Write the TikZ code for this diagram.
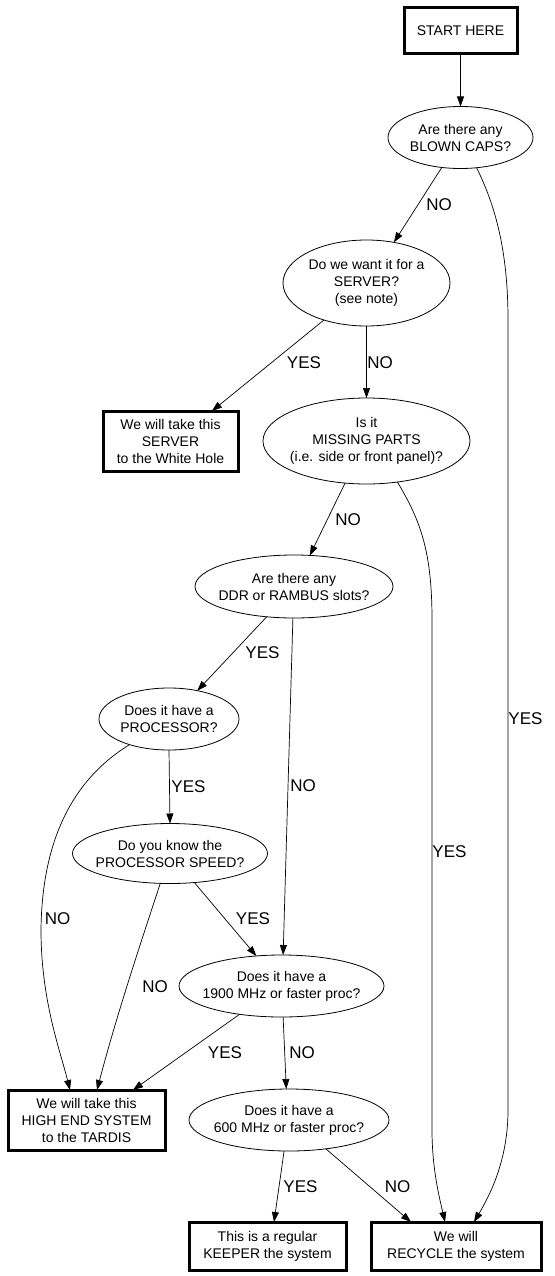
\documentclass[tikz,border=0pt]{standalone}
\usepackage{fontspec}
\setmainfont{Liberation Sans}
\usetikzlibrary{shapes.geometric,arrows.meta}
\tikzset{
  dec/.style={ellipse, draw, line width=0.8pt, inner sep=0pt, outer sep=0pt},
  term/.style={rectangle, draw, line width=3pt, inner sep=0pt, outer sep=0pt,
    font=\fontsize{14}{17}\selectfont, align=center},
  txt/.style={font=\fontsize{14}{17}\selectfont, align=center, inner sep=0pt},
  lbl/.style={font=\fontsize{17}{20}\selectfont, inner sep=0pt},
  edge/.style={-{Triangle[length=10pt,width=7pt]}, line width=0.7pt},
}
\begin{document}
\begin{tikzpicture}[x=1pt,y=-1pt]
\useasboundingbox (0,0) rectangle (554,1276);

% terminal boxes
\node[term, minimum width=113pt, minimum height=46pt] (start) at (460.5,31) {START HERE};
\node[term, minimum width=135pt, minimum height=60pt] (white) at (170.5,441) {We will take this\\SERVER\\to the White Hole};
\node[term, minimum width=157pt, minimum height=60pt] (tardis) at (86.5,1120) {We will take this\\HIGH END SYSTEM\\to the TARDIS};
\node[term, minimum width=157pt, minimum height=48pt] (keeper) at (267.5,1246) {This is a regular\\KEEPER the system};
\node[term, minimum width=170pt, minimum height=48pt] (recycle) at (456,1246) {We will\\RECYCLE the system};

% decision ellipses
\node[dec, minimum width=145pt, minimum height=62pt] (blown) at (460.5,137.5) {};
\node[txt] (blownT) at (blown) {Are there any\\BLOWN CAPS?};
\node[dec, minimum width=167pt, minimum height=86pt] (server) at (366.5,283) {};
\node[txt] (serverT) at (server) {Do we want it for a\\SERVER?\\(see note)};
\node[dec, minimum width=207pt, minimum height=86pt] (missing) at (366.5,441) {};
\node[txt] (missingT) at (missing) {Is it\\MISSING PARTS\\(i.e. side or front panel)?};
\node[dec, minimum width=198pt, minimum height=63pt] (ddr) at (294,586.5) {};
\node[txt] (ddrT) at (ddr) {Are there any\\DDR or RAMBUS slots?};
\node[dec, minimum width=140pt, minimum height=62pt] (proc) at (169,719) {};
\node[txt] (procT) at (proc) {Does it have a\\PROCESSOR?};
\node[dec, minimum width=195pt, minimum height=60pt] (speed) at (170,853.5) {};
\node[txt] (speedT) at (speed) {Do you know the\\PROCESSOR SPEED?};
\node[dec, minimum width=205pt, minimum height=62pt] (f1900) at (281.5,986) {};
\node[txt] (f1900T) at (f1900) {Does it have a\\1900 MHz or faster proc?};
\node[dec, minimum width=200pt, minimum height=62pt] (f600) at (289,1120) {};
\node[txt] (f600T) at (f600) {Does it have a\\600 MHz or faster proc?};

% connectors
\draw[edge] (start.south) -- (blown.north);
\draw[edge] (blown.-122.6) -- (server.56.5);
\draw[edge] (blown.-62.4) .. controls (495,205) and (508,250) .. (508,320)
  -- (508,1110) .. controls (508,1160) and (490,1195) .. ([xshift=18pt]recycle.north);
\draw[edge] (server.221.1) -- ([xshift=41.5pt]white.north);
\draw[edge] (server.south) -- (missing.north);
\draw[edge] (missing.-117.1) -- (ddr.63.1);
\draw[edge] (missing.-53.1) .. controls (420,520) and (432,550) .. (432,620)
  -- (432,1130) .. controls (432,1170) and (440,1200) .. ([xshift=-11pt]recycle.north);
\draw[edge] (ddr.228.5) -- (proc.45);
\draw[edge] (ddr.-92) -- (f1900.87.2);
\draw[edge] (proc.south) -- (speed.north);
\draw[edge] (proc.213.4) .. controls (80,775) and (42,830) .. (41,930)
  .. controls (41,1000) and (60,1050) .. ([xshift=-16.5pt]tardis.north);
\draw[edge] (speed.-50.7) -- (f1900.130.5);
\draw[edge] (speed.-108.7) .. controls (145,930) and (118,1010) .. ([xshift=10.5pt]tardis.north);
\draw[edge] (f1900.214.6) -- ([xshift=46.5pt]tardis.north);
\draw[edge] (f1900.-87) -- (f600.95);
\draw[edge] (f600.-99.5) -- ([xshift=6.5pt]keeper.north);
\draw[edge] (f600.-38.7) -- ([xshift=-45pt]recycle.north);

% connector labels
\node[lbl] (l1) at (439,205) {NO};
\node[lbl] (l2) at (525.5,719) {YES};
\node[lbl] (l3) at (304,363) {YES};
\node[lbl] (l4) at (380,363) {NO};
\node[lbl] (l5) at (348,520) {NO};
\node[lbl] (l6) at (449.5,852) {YES};
\node[lbl] (l7) at (262.5,653) {YES};
\node[lbl] (l8) at (303,786) {NO};
\node[lbl] (l9) at (188.5,787) {YES};
\node[lbl] (l10) at (57.5,919) {NO};
\node[lbl] (l11) at (253,919) {YES};
\node[lbl] (l12) at (155,987) {NO};
\node[lbl] (l13) at (225,1053) {YES};
\node[lbl] (l14) at (302,1053) {NO};
\node[lbl] (l15) at (300.5,1187) {YES};
\node[lbl] (l16) at (397.5,1187) {NO};
\end{tikzpicture}
\end{document}
